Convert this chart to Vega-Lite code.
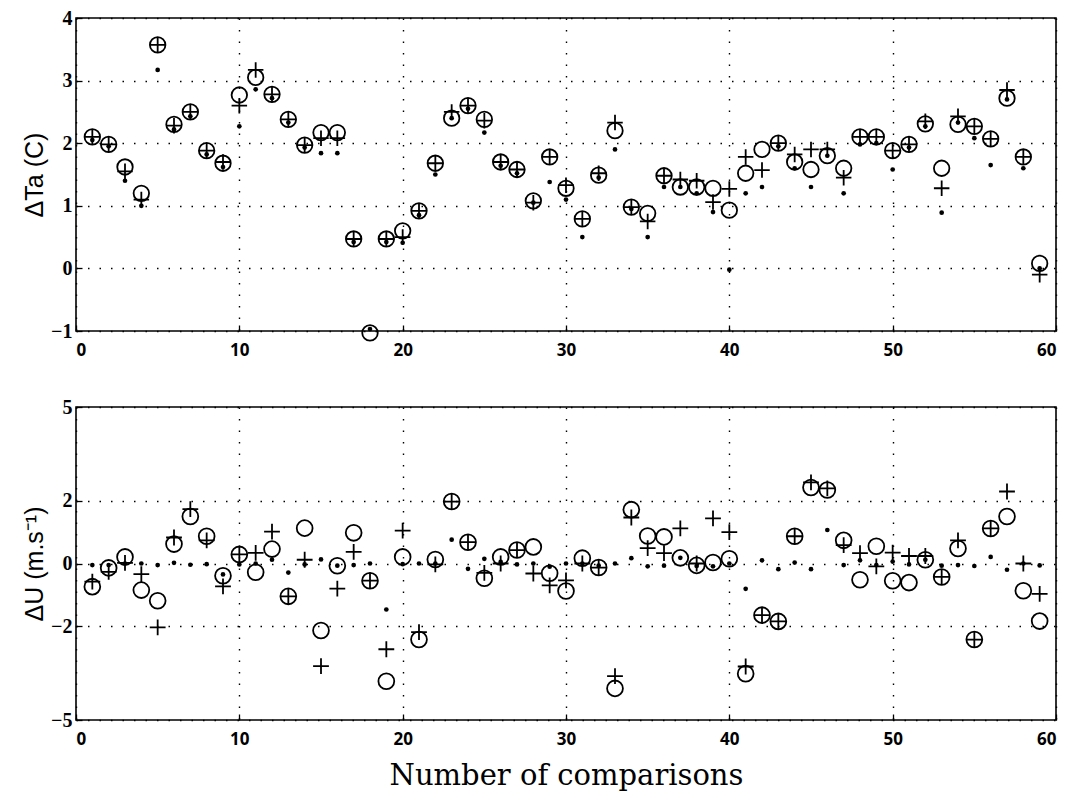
{
  "$schema": "https://vega.github.io/schema/vega-lite/v6.json",
  "background": "white",
  "padding": {"left": 21, "top": 7, "right": 4, "bottom": 5},
  "spacing": 37,
  "datasets": {
    "ta": [
      {"x":1,"o":2.1,"p":2.1,"d":2.05},{"x":2,"o":1.98,"p":1.98,"d":1.95},{"x":3,"o":1.62,"p":1.55,"d":1.4},
      {"x":4,"o":1.2,"p":1.1,"d":1.0},{"x":5,"o":3.57,"p":3.57,"d":3.17},{"x":6,"o":2.3,"p":2.28,"d":2.22},
      {"x":7,"o":2.5,"p":2.5,"d":2.43},{"x":8,"o":1.88,"p":1.88,"d":1.82},{"x":9,"o":1.68,"p":1.7,"d":1.62},
      {"x":10,"o":2.77,"p":2.6,"d":2.27},{"x":11,"o":3.05,"p":3.17,"d":2.86},{"x":12,"o":2.78,"p":2.78,"d":2.72},
      {"x":13,"o":2.38,"p":2.38,"d":2.33},{"x":14,"o":1.97,"p":1.97,"d":1.93},{"x":15,"o":2.17,"p":2.08,"d":1.84},
      {"x":16,"o":2.17,"p":2.08,"d":1.84},{"x":17,"o":0.47,"p":0.47,"d":0.42},{"x":18,"o":-1.03,"p":null,"d":-0.97},
      {"x":19,"o":0.47,"p":0.47,"d":0.42},{"x":20,"o":0.6,"p":0.5,"d":0.41},{"x":21,"o":0.92,"p":0.92,"d":0.85},
      {"x":22,"o":1.68,"p":1.68,"d":1.5},{"x":23,"o":2.4,"p":2.5,"d":2.4},{"x":24,"o":2.6,"p":2.6,"d":2.55},
      {"x":25,"o":2.38,"p":2.36,"d":2.17},{"x":26,"o":1.7,"p":1.7,"d":1.64},{"x":27,"o":1.58,"p":1.58,"d":1.52},
      {"x":28,"o":1.08,"p":1.05,"d":1.05},{"x":29,"o":1.78,"p":1.78,"d":1.38},{"x":30,"o":1.28,"p":1.33,"d":1.1},
      {"x":31,"o":0.79,"p":0.79,"d":0.5},{"x":32,"o":1.49,"p":1.52,"d":1.45},{"x":33,"o":2.2,"p":2.33,"d":1.9},
      {"x":34,"o":0.98,"p":0.98,"d":0.95},{"x":35,"o":0.88,"p":0.75,"d":0.5},{"x":36,"o":1.48,"p":1.48,"d":1.3},
      {"x":37,"o":1.3,"p":1.42,"d":1.3},{"x":38,"o":1.3,"p":1.4,"d":1.2},{"x":39,"o":1.28,"p":1.06,"d":0.9},
      {"x":40,"o":0.93,"p":1.27,"d":-0.02},{"x":41,"o":1.52,"p":1.78,"d":1.2},{"x":42,"o":1.9,"p":1.57,"d":1.3},
      {"x":43,"o":2.0,"p":2.0,"d":1.95},{"x":44,"o":1.7,"p":1.82,"d":1.6},{"x":45,"o":1.58,"p":1.9,"d":1.3},
      {"x":46,"o":1.8,"p":1.9,"d":1.8},{"x":47,"o":1.6,"p":1.45,"d":1.2},{"x":48,"o":2.1,"p":2.1,"d":1.98},
      {"x":49,"o":2.1,"p":2.1,"d":2.0},{"x":50,"o":1.88,"p":1.88,"d":1.58},{"x":51,"o":1.98,"p":1.98,"d":1.93},
      {"x":52,"o":2.31,"p":2.35,"d":2.27},{"x":53,"o":1.6,"p":1.28,"d":0.89},{"x":54,"o":2.3,"p":2.43,"d":2.33},
      {"x":55,"o":2.27,"p":2.27,"d":2.08},{"x":56,"o":2.07,"p":2.07,"d":1.65},{"x":57,"o":2.72,"p":2.85,"d":2.7},
      {"x":58,"o":1.78,"p":1.78,"d":1.6},{"x":59,"o":0.08,"p":-0.1,"d":0.0}
    ],
    "du": [
      {"x":1,"o":-0.74,"p":-0.58,"d":-0.05},{"x":2,"o":-0.14,"p":-0.27,"d":-0.05},{"x":3,"o":0.21,"p":0.02,"d":0.0},
      {"x":4,"o":-0.85,"p":-0.34,"d":0.0},{"x":5,"o":-1.19,"p":-2.04,"d":-0.05},{"x":6,"o":0.62,"p":0.83,"d":0.02},
      {"x":7,"o":1.5,"p":1.74,"d":-0.04},{"x":8,"o":0.87,"p":0.74,"d":-0.02},{"x":9,"o":-0.39,"p":-0.73,"d":-0.35},
      {"x":10,"o":0.29,"p":0.29,"d":-0.03},{"x":11,"o":-0.28,"p":0.34,"d":0.0},{"x":12,"o":0.46,"p":1.02,"d":0.12},
      {"x":13,"o":-1.05,"p":-1.05,"d":-0.29},{"x":14,"o":1.13,"p":0.12,"d":-0.03},{"x":15,"o":-2.14,"p":-3.28,"d":0.13},
      {"x":16,"o":-0.07,"p":-0.8,"d":-0.07},{"x":17,"o":0.98,"p":0.37,"d":-0.05},{"x":18,"o":-0.55,"p":-0.55,"d":0.0},
      {"x":19,"o":-3.76,"p":-2.74,"d":-1.47},{"x":20,"o":0.21,"p":1.05,"d":-0.02},{"x":21,"o":-2.43,"p":-2.19,"d":0.0},
      {"x":22,"o":0.13,"p":-0.03,"d":0.0},{"x":23,"o":1.98,"p":1.98,"d":0.76},{"x":24,"o":0.68,"p":0.68,"d":-0.17},
      {"x":25,"o":-0.47,"p":-0.3,"d":0.15},{"x":26,"o":0.21,"p":0.0,"d":0.05},{"x":27,"o":0.43,"p":0.43,"d":-0.03},
      {"x":28,"o":0.53,"p":-0.32,"d":0.0},{"x":29,"o":-0.31,"p":-0.7,"d":-0.1},{"x":30,"o":-0.88,"p":-0.54,"d":0.0},
      {"x":31,"o":0.17,"p":0.0,"d":0.0},{"x":32,"o":-0.13,"p":-0.13,"d":-0.07},{"x":33,"o":-3.99,"p":-3.6,"d":0.0},
      {"x":34,"o":1.72,"p":1.47,"d":0.17},{"x":35,"o":0.88,"p":0.49,"d":-0.09},{"x":36,"o":0.85,"p":0.33,"d":-0.07},
      {"x":37,"o":0.18,"p":1.12,"d":0.18},{"x":38,"o":-0.06,"p":0.0,"d":-0.08},{"x":39,"o":0.03,"p":1.44,"d":-0.09},
      {"x":40,"o":0.15,"p":1.0,"d":0.0},{"x":41,"o":-3.52,"p":-3.29,"d":-0.81},{"x":42,"o":-1.65,"p":-1.65,"d":0.1},
      {"x":43,"o":-1.85,"p":-1.85,"d":-0.18},{"x":44,"o":0.87,"p":0.87,"d":0.03},{"x":45,"o":2.43,"p":2.59,"d":-0.18},
      {"x":46,"o":2.35,"p":2.4,"d":1.07},{"x":47,"o":0.74,"p":0.59,"d":-0.05},{"x":48,"o":-0.52,"p":0.33,"d":0.1},
      {"x":49,"o":0.55,"p":-0.09,"d":-0.05},{"x":50,"o":-0.55,"p":0.35,"d":0.06},{"x":51,"o":-0.61,"p":0.24,"d":-0.03},
      {"x":52,"o":0.12,"p":0.24,"d":0.12},{"x":53,"o":-0.43,"p":-0.43,"d":-0.07},{"x":54,"o":0.48,"p":0.74,"d":-0.05},
      {"x":55,"o":-2.43,"p":-2.43,"d":-0.08},{"x":56,"o":1.12,"p":1.12,"d":0.21},{"x":57,"o":1.5,"p":2.3,"d":-0.2},
      {"x":58,"o":-0.87,"p":0.0,"d":0.0},{"x":59,"o":-1.84,"p":-0.97,"d":-0.06}
    ]
  },
  "config": {
    "view": {"stroke": "black", "strokeWidth": 1.6},
    "axis": {
      "domain": false, "grid": true, "gridColor": "black", "gridDash": [1.5, 10], "gridWidth": 1.4,
      "ticks": true, "tickColor": "black", "tickSize": -6, "tickWidth": 1.3,
      "labelColor": "black", "titleColor": "black", "format": "d"
    },
    "axisX": {"labelFont": "Open Sans", "labelFontWeight": "bold", "labelFontSize": 17, "labelPadding": 17},
    "axisY": {"labelFont": "Liberation Serif", "labelFontWeight": "bold", "labelFontSize": 20, "labelPadding": 10,
              "titleFont": "Liberation Sans", "titleFontWeight": "normal", "titleFontSize": 25, "titlePadding": 3}
  },
  "vconcat": [
    {
      "width": 980, "height": 313,
      "data": {"name": "ta"},
      "encoding": {
        "x": {"field": "x", "type": "quantitative",
              "scale": {"domain": [0, 60], "nice": false},
              "axis": {"values": [0, 10, 20, 30, 40, 50, 60], "title": null}}
      },
      "layer": [
        {"mark": {"type": "point", "shape": "circle", "filled": false, "size": 240, "stroke": "black", "strokeWidth": 1.8, "opacity": 1},
         "encoding": {"y": {"field": "o", "type": "quantitative", "scale": {"domain": [-1, 4], "nice": false},
                            "axis": {"values": [-1, 0, 1, 2, 3, 4], "title": "ΔTa (C)"}}}},
        {"mark": {"type": "point", "shape": "M-1,0L1,0M0,-1L0,1", "filled": false, "size": 240, "stroke": "black", "strokeWidth": 1.8, "opacity": 1},
         "encoding": {"y": {"field": "p", "type": "quantitative"}}},
        {"mark": {"type": "point", "shape": "circle", "filled": true, "size": 22, "color": "black", "opacity": 1},
         "encoding": {"y": {"field": "d", "type": "quantitative"}}}
      ]
    },
    {
      "width": 980, "height": 313,
      "data": {"name": "du"},
      "encoding": {
        "x": {"field": "x", "type": "quantitative",
              "scale": {"domain": [0, 60], "nice": false},
              "axis": {"values": [0, 10, 20, 30, 40, 50, 60], "title": "Number of comparisons",
                       "titleFont": "DejaVu Serif", "titleFontSize": 29, "titleFontWeight": "normal", "titlePadding": 14}}
      },
      "layer": [
        {"mark": {"type": "point", "shape": "circle", "filled": false, "size": 250, "stroke": "black", "strokeWidth": 1.8, "opacity": 1},
         "encoding": {"y": {"field": "o", "type": "quantitative", "scale": {"domain": [-5, 5], "nice": false},
                            "axis": {"values": [-5, -2, 0, 2, 5], "title": "ΔU (m.s⁻¹)"}}}},
        {"mark": {"type": "point", "shape": "M-1,0L1,0M0,-1L0,1", "filled": false, "size": 250, "stroke": "black", "strokeWidth": 1.8, "opacity": 1},
         "encoding": {"y": {"field": "p", "type": "quantitative"}}},
        {"mark": {"type": "point", "shape": "circle", "filled": true, "size": 22, "color": "black", "opacity": 1},
         "encoding": {"y": {"field": "d", "type": "quantitative"}}}
      ]
    }
  ]
}
